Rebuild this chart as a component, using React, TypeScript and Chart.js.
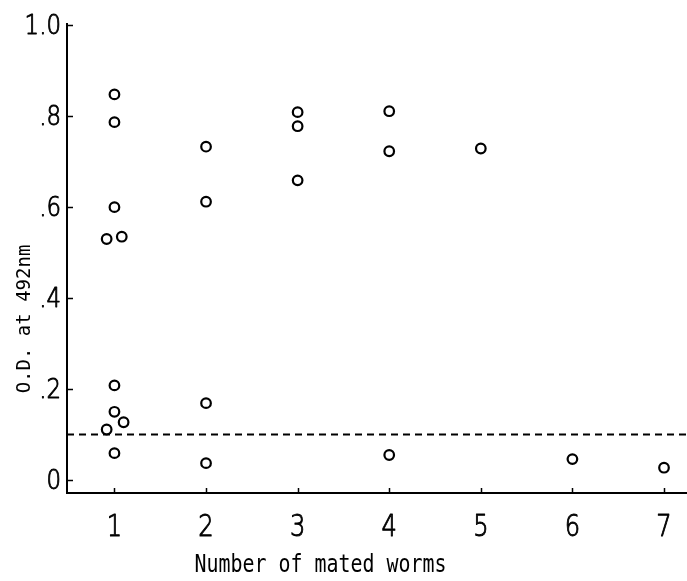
import React, { useEffect, useRef } from "react";
import { Chart, registerables } from "chart.js";

Chart.register(...registerables);

// Data
const pointX = [1, 1, 1, 0.915, 1.08, 1, 1, 1.1, 0.915, 1, 2, 2, 2, 2, 3, 3, 3, 4, 4, 4, 5, 6, 7];
const pointY = [
  0.848, 0.787, 0.6, 0.53, 0.535, 0.208, 0.15, 0.127, 0.111, 0.059,
  0.733, 0.612, 0.169, 0.037,
  0.809, 0.778, 0.659,
  0.811, 0.723, 0.055,
  0.729,
  0.046,
  0.027,
];
const cutoffValue = 0.1;
const xTickValues = [1, 2, 3, 4, 5, 6, 7];
const xTickLabels = ["1", "2", "3", "4", "5", "6", "7"];
const yTickValues = [0, 0.2, 0.4, 0.6, 0.8, 1.0];
const yTickLabels = ["0", ".2", ".4", ".6", ".8", "1.0"];
const xMin = 0.482;
const xMax = 7.251;
const yMin = -0.0286;
const yMax = 1.005;
const xTitle = "Number of mated worms";
const yTitle = "O.D. at 492nm";
const xTitleValue = 3.25;

function drawText(
  ctx: CanvasRenderingContext2D,
  text: string,
  x: number,
  y: number,
  font: string,
  align: CanvasTextAlign,
  baseline: CanvasTextBaseline,
  sx: number,
  rot = 0,
  strokeW = 0
) {
  ctx.save();
  ctx.translate(x, y);
  if (rot) ctx.rotate(rot);
  ctx.scale(sx, 1);
  ctx.font = font;
  ctx.textAlign = align;
  ctx.textBaseline = baseline;
  ctx.fillStyle = "#000";
  ctx.fillText(text, 0, 0);
  if (strokeW > 0) {
    ctx.strokeStyle = "#000";
    ctx.lineWidth = strokeW;
    ctx.lineJoin = "round";
    ctx.strokeText(text, 0, 0);
  }
  ctx.restore();
}

const axisPlugin = {
  id: "axisDecor",
  afterDraw(chart: any) {
    const ctx: CanvasRenderingContext2D = chart.ctx;
    const { left, right, top, bottom } = chart.chartArea;
    const xs = chart.scales.x;
    const ys = chart.scales.y;
    ctx.save();
    ctx.strokeStyle = "#000";
    ctx.lineWidth = 2;
    ctx.beginPath();
    ctx.moveTo(left, top);
    ctx.lineTo(left, bottom);
    ctx.lineTo(right, bottom);
    ctx.stroke();
    ctx.lineWidth = 1.5;
    ctx.beginPath();
    xTickValues.forEach((v) => {
      const px = Math.round(xs.getPixelForValue(v)) + 0.5;
      ctx.moveTo(px, bottom);
      ctx.lineTo(px, bottom - 5);
    });
    yTickValues.forEach((v) => {
      const py = Math.round(ys.getPixelForValue(v)) + 0.5;
      ctx.moveTo(left, py);
      ctx.lineTo(left + 6, py);
    });
    ctx.stroke();
    ctx.restore();

    yTickValues.forEach((v, i) => {
      const py = ys.getPixelForValue(v);
      drawText(ctx, yTickLabels[i], left - 6, py + 2, "200 26px 'DejaVu Sans'", "right", "middle", 0.88, 0, 0.9);
    });
    xTickValues.forEach((v, i) => {
      const px = xs.getPixelForValue(v);
      drawText(ctx, xTickLabels[i], px, bottom + 43, "200 31px 'DejaVu Sans'", "center", "alphabetic", 0.78, 0, 1.0);
    });
    drawText(ctx, xTitle, xs.getPixelForValue(xTitleValue), 572, "24px 'DejaVu Sans Mono'", "center", "alphabetic", 0.83, 0, 0);
    drawText(ctx, yTitle, 30, 319, "19px 'DejaVu Sans Mono'", "center", "alphabetic", 1.0, -Math.PI / 2, 0);
  },
};

export default function App() {
  const ref = useRef<HTMLCanvasElement>(null);
  useEffect(() => {
    if (!ref.current) return;
    const pts = pointX.map((x, i) => ({ x, y: pointY[i] }));
    const chart = new Chart(ref.current, {
      type: "scatter",
      data: {
        datasets: [
          {
            type: "line",
            data: [
              { x: xMin, y: cutoffValue },
              { x: xMax, y: cutoffValue },
            ],
            borderColor: "#000",
            borderWidth: 2,
            borderDash: [7, 5],
            pointRadius: 0,
            fill: false,
            order: 2,
          } as any,
          {
            data: pts,
            pointStyle: "circle",
            pointRadius: 4.8,
            pointBorderWidth: 2.2,
            borderColor: "#000",
            backgroundColor: "#fff",
            pointBackgroundColor: "#fff",
            pointBorderColor: "#000",
            showLine: false,
            order: 1,
          },
        ],
      },
      options: {
        animation: false,
        responsive: false,
        devicePixelRatio: 1,
        layout: { autoPadding: false, padding: { top: 23, right: 0, left: 0, bottom: 0 } },
        plugins: { legend: { display: false }, tooltip: { enabled: false } },
        scales: {
          x: {
            type: "linear",
            min: xMin,
            max: xMax,
            grid: { display: false },
            border: { display: false },
            ticks: { display: false },
            afterFit: (s: any) => {
              s.height = 88;
            },
          },
          y: {
            type: "linear",
            min: yMin,
            max: yMax,
            grid: { display: false },
            border: { display: false },
            ticks: { display: false },
            afterFit: (s: any) => {
              s.width = 67;
            },
          },
        },
      },
      plugins: [axisPlugin],
    });
    return () => chart.destroy();
  }, []);
  return (
    <div style={{ position: "fixed", left: 0, top: 0, width: 687, height: 581, background: "#fff" }}>
      <canvas ref={ref} width={687} height={581} style={{ display: "block" }} />
    </div>
  );
}
